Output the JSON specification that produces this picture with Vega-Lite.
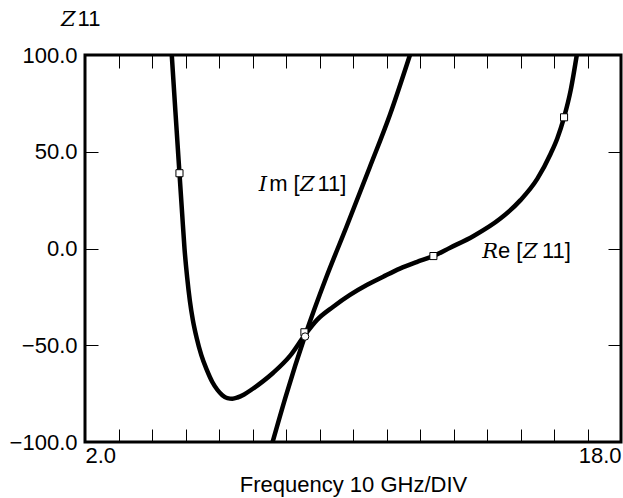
{
  "$schema": "https://vega.github.io/schema/vega-lite/v6.json",
  "autosize": {"type": "none"},
  "padding": {"left": 85, "top": 55, "right": 2, "bottom": 56},
  "width": 536,
  "height": 387,
  "background": "white",
  "config": {
    "view": {"stroke": "black", "strokeWidth": 3},
    "axis": {"grid": false, "domain": false, "labelFont": "Liberation Sans", "titleFont": "Liberation Sans", "labelColor": "black", "titleColor": "black", "tickColor": "black", "labelFontSize": 22, "titleFontSize": 22, "titleFontWeight": "normal"}
  },
  "datasets": {
    "curves": [
      {"series": "Re", "x": 4.59, "y": 100},
      {"series": "Re", "x": 4.70, "y": 70.5},
      {"series": "Re", "x": 4.82, "y": 38.9},
      {"series": "Re", "x": 4.90, "y": 18.0},
      {"series": "Re", "x": 4.97, "y": 0},
      {"series": "Re", "x": 5.05, "y": -15},
      {"series": "Re", "x": 5.13, "y": -27},
      {"series": "Re", "x": 5.22, "y": -37},
      {"series": "Re", "x": 5.33, "y": -46},
      {"series": "Re", "x": 5.47, "y": -55},
      {"series": "Re", "x": 5.63, "y": -62.5},
      {"series": "Re", "x": 5.80, "y": -69},
      {"series": "Re", "x": 5.95, "y": -73},
      {"series": "Re", "x": 6.10, "y": -75.8},
      {"series": "Re", "x": 6.25, "y": -77.3},
      {"series": "Re", "x": 6.40, "y": -77.6},
      {"series": "Re", "x": 6.55, "y": -77.0},
      {"series": "Re", "x": 6.75, "y": -75.4},
      {"series": "Re", "x": 7.00, "y": -72.6},
      {"series": "Re", "x": 7.30, "y": -68.8},
      {"series": "Re", "x": 7.62, "y": -64.2},
      {"series": "Re", "x": 8.12, "y": -55.5},
      {"series": "Re", "x": 8.57, "y": -44.5},
      {"series": "Re", "x": 8.92, "y": -37.0},
      {"series": "Re", "x": 9.41, "y": -30.1},
      {"series": "Re", "x": 9.91, "y": -24.0},
      {"series": "Re", "x": 10.41, "y": -18.9},
      {"series": "Re", "x": 10.90, "y": -14.6},
      {"series": "Re", "x": 11.40, "y": -10.4},
      {"series": "Re", "x": 11.90, "y": -7.0},
      {"series": "Re", "x": 12.40, "y": -3.9},
      {"series": "Re", "x": 12.90, "y": 0.4},
      {"series": "Re", "x": 13.60, "y": 6.5},
      {"series": "Re", "x": 14.40, "y": 15.5},
      {"series": "Re", "x": 15.00, "y": 25.0},
      {"series": "Re", "x": 15.50, "y": 36.0},
      {"series": "Re", "x": 15.90, "y": 49.0},
      {"series": "Re", "x": 16.10, "y": 57.0},
      {"series": "Re", "x": 16.30, "y": 67.8},
      {"series": "Re", "x": 16.50, "y": 82.0},
      {"series": "Re", "x": 16.68, "y": 100},
      {"series": "Im", "x": 7.60, "y": -100},
      {"series": "Im", "x": 8.00, "y": -76},
      {"series": "Im", "x": 8.57, "y": -45},
      {"series": "Im", "x": 9.20, "y": -15},
      {"series": "Im", "x": 9.80, "y": 11},
      {"series": "Im", "x": 10.50, "y": 42},
      {"series": "Im", "x": 11.10, "y": 69},
      {"series": "Im", "x": 11.70, "y": 100}
    ],
    "squares": [
      {"x": 4.82, "y": 38.9},
      {"x": 8.55, "y": -43.3},
      {"x": 12.40, "y": -3.9},
      {"x": 16.30, "y": 67.8}
    ],
    "circles": [
      {"x": 8.57, "y": -45.5}
    ],
    "italicText": [
      {"x": 7.19, "y": 29.5, "t": "I"},
      {"x": 8.418, "y": 29.5, "t": "Z"},
      {"x": 13.858, "y": -4.9, "t": "R"},
      {"x": 15.075, "y": -4.9, "t": "Z"},
      {"x": 1.284, "y": 115.0, "t": "Z"}
    ],
    "plainText": [
      {"x": 7.498, "y": 29.5, "t": "m ["},
      {"x": 8.94, "y": 29.5, "t": "11]"},
      {"x": 14.328, "y": -4.9, "t": "e ["},
      {"x": 15.64, "y": -4.9, "t": "11]"},
      {"x": 1.779, "y": 115.0, "t": "11"}
    ]
  },
  "resolve": {"axis": {"x": "independent", "y": "independent"}},
  "layer": [
    {
      "data": {"name": "curves"},
      "mark": {"type": "line", "color": "black", "strokeWidth": 4.5, "interpolate": "monotone", "clip": true},
      "encoding": {
        "x": {"field": "x", "type": "quantitative", "scale": {"domain": [2, 18], "nice": false, "zero": false},
          "axis": {"orient": "bottom", "values": [2, 18], "format": ".1f", "labelFlush": true, "ticks": false, "labelPadding": 3, "title": "Frequency 10 GHz/DIV", "titlePadding": 8}},
        "y": {"field": "y", "type": "quantitative", "scale": {"domain": [-100, 100], "nice": false, "zero": false},
          "axis": {"orient": "left", "values": [-100, -50, 0, 50, 100], "format": ".1f", "ticks": false, "labelPadding": 8, "title": null}},
        "detail": {"field": "series"}
      }
    },
    {
      "data": {"name": "squares"},
      "mark": {"type": "point", "shape": "square", "filled": true, "fill": "white", "stroke": "black", "strokeWidth": 1, "size": 50, "opacity": 1},
      "encoding": {
        "x": {"field": "x", "type": "quantitative",
          "axis": {"orient": "bottom", "values": [3,4,5,6,7,8,9,10,11,12,13,14,15,16,17], "labels": false, "tickSize": 13, "tickWidth": 1, "offset": -13, "title": null}},
        "y": {"field": "y", "type": "quantitative",
          "axis": {"orient": "left", "values": [-50, 0, 50], "labels": false, "tickSize": 13, "tickWidth": 1, "offset": -13, "title": null}}
      }
    },
    {
      "data": {"name": "circles"},
      "mark": {"type": "point", "shape": "circle", "filled": true, "fill": "white", "stroke": "black", "strokeWidth": 1, "size": 55, "opacity": 1},
      "encoding": {
        "x": {"field": "x", "type": "quantitative",
          "axis": {"orient": "top", "values": [3,4,5,6,7,8,9,10,11,12,13,14,15,16,17], "labels": false, "tickSize": 13, "tickWidth": 1, "offset": -13, "title": null}},
        "y": {"field": "y", "type": "quantitative",
          "axis": {"orient": "right", "values": [-50, 0, 50], "labels": false, "tickSize": 13, "tickWidth": 1, "offset": -13, "title": null}}
      }
    },
    {
      "data": {"name": "italicText"},
      "mark": {"type": "text", "font": "DejaVu Serif", "fontStyle": "italic", "fontSize": 21, "align": "left", "baseline": "alphabetic", "color": "black"},
      "encoding": {
        "x": {"field": "x", "type": "quantitative", "axis": null},
        "y": {"field": "y", "type": "quantitative", "axis": null},
        "text": {"field": "t"}
      }
    },
    {
      "data": {"name": "plainText"},
      "mark": {"type": "text", "font": "Liberation Sans", "fontSize": 22, "align": "left", "baseline": "alphabetic", "color": "black"},
      "encoding": {
        "x": {"field": "x", "type": "quantitative", "axis": null},
        "y": {"field": "y", "type": "quantitative", "axis": null},
        "text": {"field": "t"}
      }
    }
  ]
}
